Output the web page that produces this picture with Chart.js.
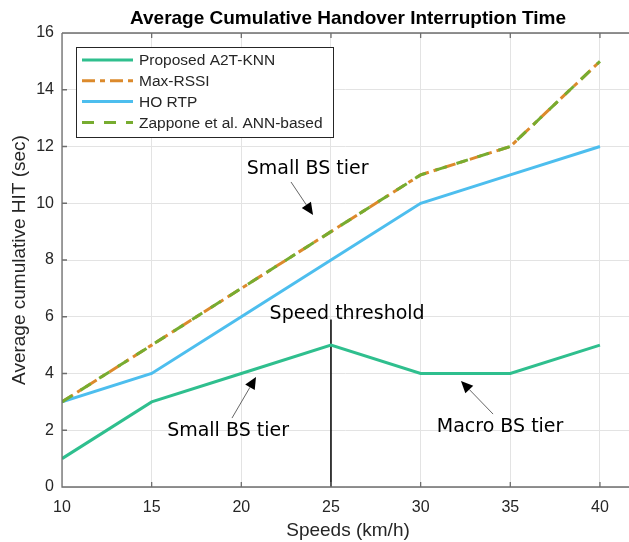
<!DOCTYPE html>
<html>
<head>
<meta charset="utf-8">
<script src="https://cdn.jsdelivr.net/npm/chart.js@4.4.1/dist/chart.umd.min.js"></script>
<style>
html, body { margin: 0; padding: 0; background: #fff; }
#wrap { width: 629px; height: 542px; }
</style>
</head>
<body>
<div id="wrap"><canvas id="hitChart"></canvas></div>
<script>
const speeds = [10, 15, 20, 25, 30, 35, 40];
const proposedHit = [1, 3, 4, 5, 4, 4, 5];
const maxRssiHit = [3, 5, 7, 9, 11, 12, 15];
const hoRtpHit = [3, 4, 6, 8, 10, 11, 12];
const zapponeHit = [3, 5, 7, 9, 11, 12, 15];
const xTickValues = [10, 15, 20, 25, 30, 35, 40];
const yTickValues = [0, 2, 4, 6, 8, 10, 12, 14, 16];
const thresholdSpeed = 25;
const thresholdTop = 5.9;

// notes with arrows, all in data units
const notes = [
    { text: 'Small BS tier', tx: 23.7, ty: 11.2, from: [22.77, 10.75], to: [24.0, 9.59] },
    { text: 'Small BS tier', tx: 19.26, ty: 1.97, from: [19.48, 2.43], to: [20.82, 3.88] },
    { text: 'Macro BS tier', tx: 34.43, ty: 2.11, from: [34.04, 2.57], to: [32.25, 3.74] },
    { text: 'Speed threshold', tx: 25.9, ty: 6.1 },
];

const labelFont = 'Liberation Sans, Arial, sans-serif';
const noteFont = 'DejaVu Sans, Verdana, sans-serif';
const textColor = '#262626';

function toPoints(values) {
    return speeds.map((s, i) => ({ x: s, y: values[i] }));
}

const datasets = [
    { label: 'Proposed A2T-KNN', data: toPoints(proposedHit), borderColor: '#2fbf8e', borderWidth: 3, order: 3 },
    { label: 'Max-RSSI', data: toPoints(maxRssiHit), borderColor: '#dc8a2c', borderWidth: 3, borderDash: [13, 5, 5, 5], order: 2 },
    { label: 'HO RTP', data: toPoints(hoRtpHit), borderColor: '#4dbeee', borderWidth: 3, order: 1 },
    { label: 'Zappone et al. ANN-based', data: toPoints(zapponeHit), borderColor: '#77ac30', borderWidth: 3, borderDash: [12, 10], order: 0 },
    { label: 'threshold', data: [{ x: thresholdSpeed, y: 0 }, { x: thresholdSpeed, y: thresholdTop }], borderColor: '#000', borderWidth: 1.5, order: 4, noLegend: true },
];

function drawArrow(ctx, x0, y0, x1, y1) {
    const ang = Math.atan2(y1 - y0, x1 - x0);
    const len = 12, half = 5.5;
    ctx.strokeStyle = '#555';
    ctx.lineWidth = 0.9;
    ctx.beginPath();
    ctx.moveTo(x0, y0);
    ctx.lineTo(x1 - Math.cos(ang) * len, y1 - Math.sin(ang) * len);
    ctx.stroke();
    ctx.fillStyle = '#000';
    ctx.beginPath();
    ctx.moveTo(x1, y1);
    ctx.lineTo(x1 - Math.cos(ang) * len - Math.sin(ang) * half, y1 - Math.sin(ang) * len + Math.cos(ang) * half);
    ctx.lineTo(x1 - Math.cos(ang) * len + Math.sin(ang) * half, y1 - Math.sin(ang) * len - Math.cos(ang) * half);
    ctx.closePath();
    ctx.fill();
}

const decorPlugin = {
    id: 'decor',
    afterDraw(chart) {
        const { ctx, chartArea: a, scales: { x, y } } = chart;
        ctx.save();

        // frame and inward ticks
        ctx.strokeStyle = '#6e6e6e';
        ctx.lineWidth = 1.3;
        ctx.beginPath();
        ctx.moveTo(a.left, a.top);
        ctx.lineTo(a.right, a.top);
        ctx.moveTo(a.left, a.top);
        ctx.lineTo(a.left, a.bottom);
        ctx.lineTo(a.right, a.bottom);
        xTickValues.forEach(v => {
            const px = x.getPixelForValue(v);
            ctx.moveTo(px, a.bottom);
            ctx.lineTo(px, a.bottom - 5);
            ctx.moveTo(px, a.top);
            ctx.lineTo(px, a.top + 5);
        });
        yTickValues.forEach(v => {
            const py = y.getPixelForValue(v);
            ctx.moveTo(a.left, py);
            ctx.lineTo(a.left + 5, py);
        });
        ctx.stroke();

        // notes
        ctx.font = '19px ' + noteFont;
        ctx.textAlign = 'center';
        ctx.textBaseline = 'middle';
        notes.forEach(n => {
            ctx.fillStyle = '#000';
            ctx.fillText(n.text, x.getPixelForValue(n.tx), y.getPixelForValue(n.ty));
            if (n.from) {
                drawArrow(ctx,
                    x.getPixelForValue(n.from[0]), y.getPixelForValue(n.from[1]),
                    x.getPixelForValue(n.to[0]), y.getPixelForValue(n.to[1]));
            }
        });

        // title and axis titles
        ctx.fillStyle = '#000';
        ctx.font = 'bold 19px ' + labelFont;
        ctx.fillText('Average Cumulative Handover Interruption Time', 348, 19);
        ctx.fillStyle = textColor;
        ctx.font = '19px ' + labelFont;
        ctx.fillText('Speeds (km/h)', 348, 531);
        ctx.save();
        ctx.translate(20, (a.top + a.bottom) / 2);
        ctx.rotate(-Math.PI / 2);
        ctx.fillText('Average cumulative HIT (sec)', 0, 0);
        ctx.restore();

        // legend box
        const bx = 76, by = 47, bw = 257, bh = 90;
        ctx.fillStyle = '#fff';
        ctx.fillRect(bx, by, bw, bh);
        ctx.strokeStyle = '#262626';
        ctx.lineWidth = 1;
        ctx.strokeRect(bx + 0.5, by + 0.5, bw, bh);
        ctx.font = '15.5px ' + labelFont;
        ctx.textAlign = 'left';
        let row = 0;
        datasets.forEach(ds => {
            if (ds.noLegend) return;
            const ry = by + 13 + row * 20.8;
            ctx.strokeStyle = ds.borderColor;
            ctx.lineWidth = ds.borderWidth;
            ctx.setLineDash(ds.borderDash || []);
            ctx.beginPath();
            ctx.moveTo(82, ry);
            ctx.lineTo(133, ry);
            ctx.stroke();
            ctx.setLineDash([]);
            ctx.fillStyle = textColor;
            ctx.fillText(ds.label, 139, ry + 1);
            row++;
        });

        ctx.restore();
    }
};

const ctx = document.getElementById('hitChart').getContext('2d');
const chart = new Chart(ctx, {
    type: 'line',
    data: { datasets: datasets.map(ds => Object.assign({ pointRadius: 0, tension: 0, fill: false }, ds)) },
    options: {
        responsive: true,
        maintainAspectRatio: false,
        animation: false,
        layout: { padding: { top: 33, right: 0, bottom: 0, left: 0 } },
        plugins: {
            legend: { display: false },
            tooltip: { enabled: false },
        },
        scales: {
            x: {
                type: 'linear',
                min: 10,
                max: 41.62,
                afterBuildTicks: s => { s.ticks = xTickValues.map(v => ({ value: v })); },
                afterFit: s => { s.height = 55; },
                ticks: { color: textColor, font: { family: labelFont, size: 16 }, padding: 11, maxRotation: 0 },
                grid: { color: '#e3e3e3', drawTicks: false },
                border: { display: false },
            },
            y: {
                min: 0,
                max: 16,
                afterBuildTicks: s => { s.ticks = yTickValues.map(v => ({ value: v })); },
                afterFit: s => { s.width = 62; },
                ticks: { color: textColor, font: { family: labelFont, size: 16 }, padding: 8 },
                grid: { color: '#e3e3e3', drawTicks: false },
                border: { display: false },
            },
        },
    },
    plugins: [decorPlugin],
});
</script>
</body>
</html>
